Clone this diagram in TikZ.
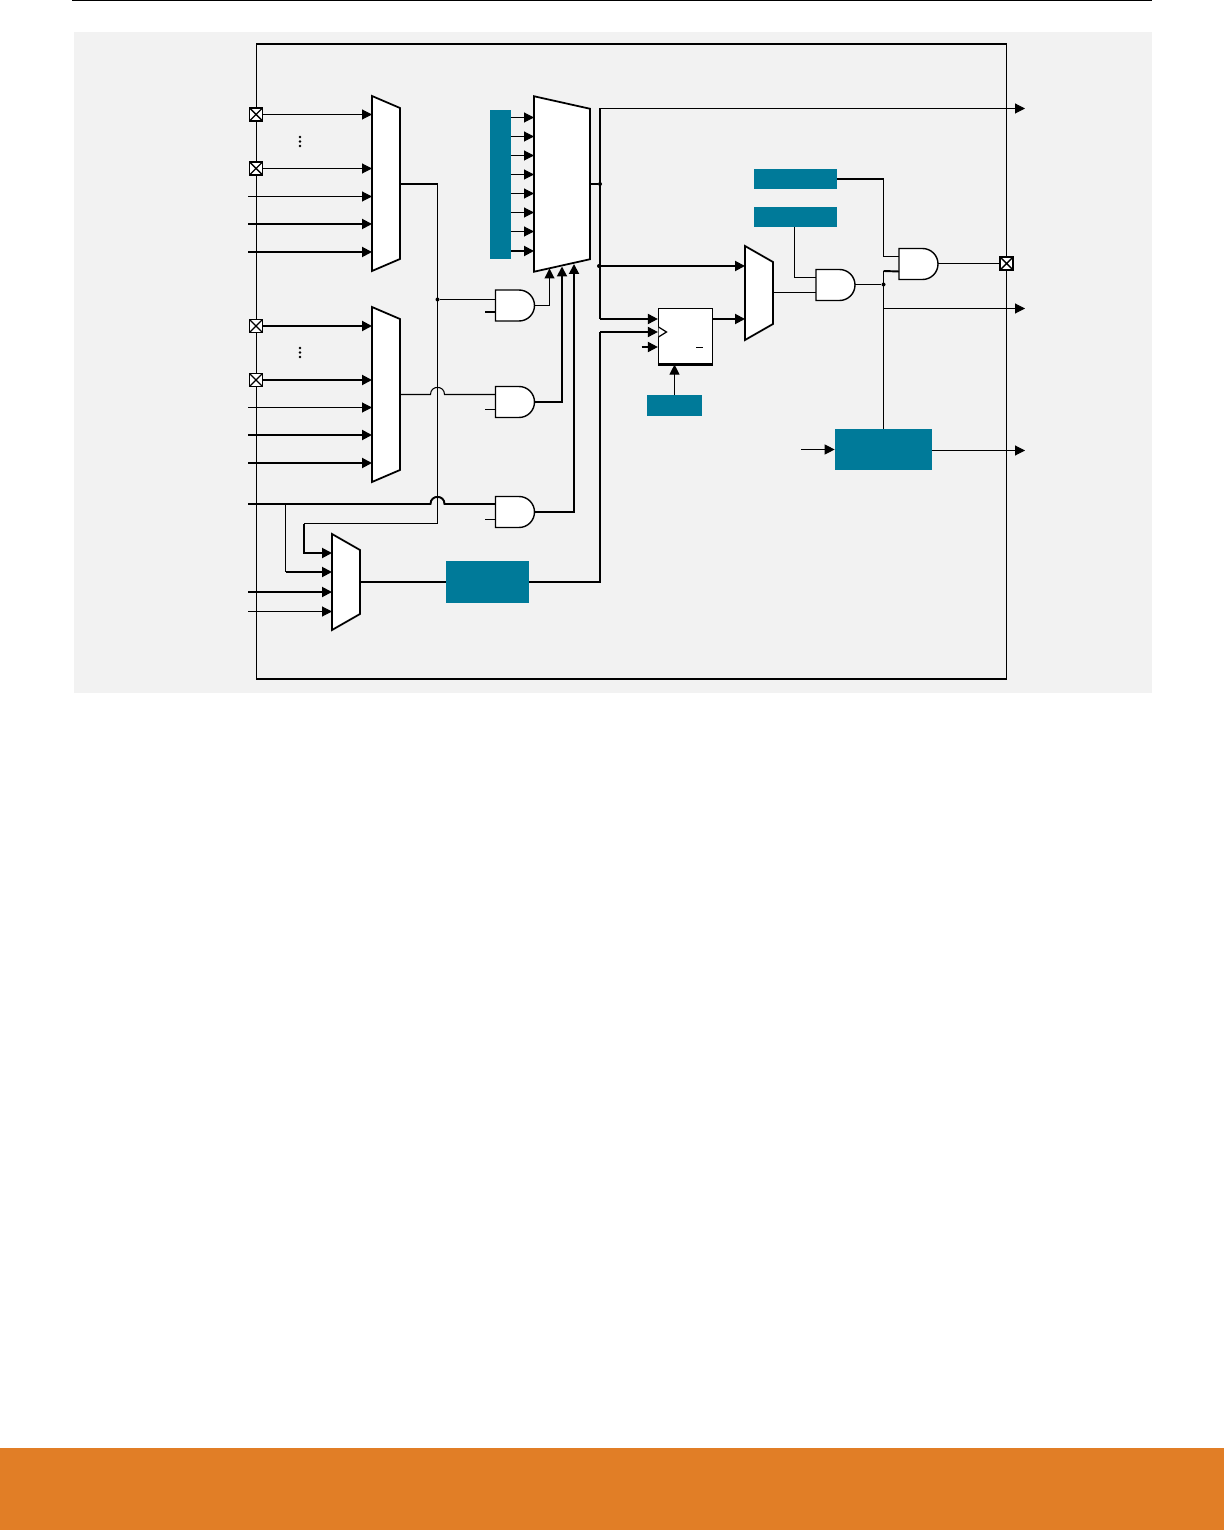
\documentclass[tikz,border=0pt]{standalone}
\usepackage{tikz}
\usetikzlibrary{arrows.meta}
\definecolor{pagegray}{HTML}{F2F2F2}
\definecolor{blockteal}{HTML}{007A99}
\definecolor{bandorange}{HTML}{E17E26}
\tikzset{
  wire/.style={line width=0.6pt},
  bus/.style={line width=1.1pt},
  tealbox/.style={rectangle, fill=blockteal, inner sep=0pt},
  pad/.style={rectangle, draw, fill=white, line width=1pt, minimum size=0.26cm, inner sep=0pt,
    path picture={\draw[line width=0.8pt] (path picture bounding box.north west) -- (path picture bounding box.south east)
      (path picture bounding box.north east) -- (path picture bounding box.south west);}},
  muxbox/.style={rectangle, inner sep=0pt, outer sep=0pt, minimum width=0.56cm},
  muxbody/.style={draw, fill=white, line width=1pt, line join=miter},
  gatebox/.style={rectangle, inner sep=0pt, outer sep=0pt, minimum width=0.78cm, minimum height=0.62cm},
  gatebody/.style={draw, fill=white, line width=0.8pt},
  jdot/.style={circle, fill, inner sep=0pt, minimum size=0.08cm},
  >={Stealth[length=0.2cm,width=0.2cm,inset=0pt]}
}
% outline of a mux on its box: name, cut of the right corners
\newcommand{\muxoutline}[2]{
  \draw[muxbody] (#1.north west) -- ([yshift=-#2]#1.north east) -- ([yshift=#2]#1.south east) -- (#1.south west) -- cycle;
}
% outline of an and gate on its box, with its two inputs
\newcommand{\gateoutline}[1]{
  \draw[gatebody] (#1.north west) -- ([xshift=-0.31cm]#1.north east) arc (90:-90:0.31cm) -- (#1.south west) -- cycle;
  \coordinate (#1a) at ([yshift=0.15cm]#1.west);
  \coordinate (#1b) at ([yshift=-0.15cm]#1.west);
}
\begin{document}
\begin{tikzpicture}[x=0.02cm, y=-0.02cm]
  \useasboundingbox (0,0) rectangle (1224,1530);
  % page furniture
  \fill[bandorange] (0,1448) rectangle (1224,1530);
  \fill[pagegray] (74,32) rectangle (1152,693);
  \draw[line width=0.7pt] (72,0.5) -- (1152,0.5);
  \draw[line width=0.6pt] (256.5,44) rectangle (1006.5,679);
  \draw[line width=0.8pt] (256.5,44) -- (1006.5,44);

  % multiplexers
  \node[muxbox, minimum height=3.5cm] (mux1) at (386,183.5) {};
  \node[muxbox, minimum height=3.5cm] (mux2) at (386,394.5) {};
  \node[muxbox, minimum height=1.92cm] (mux3) at (346,582) {};
  \node[muxbox, minimum width=1.12cm, minimum height=3.51cm] (mux4) at (562,184) {};
  \node[muxbox, minimum height=1.88cm] (mux5) at (759,293) {};
  \muxoutline{mux1}{0.24cm}
  \muxoutline{mux2}{0.24cm}
  \muxoutline{mux3}{0.32cm}
  \muxoutline{mux4}{0.25cm}
  \muxoutline{mux5}{0.32cm}

  % pads on the chip edge
  \node[pad] (pad1) at (256,114.5) {};
  \node[pad] (pad2) at (256,168.5) {};
  \node[pad] (pad3) at (256,326) {};
  \node[pad] (pad4) at (256,380) {};
  \node[pad] (pad5) at (1006.5,263.5) {};

  % coloured blocks
  \node[tealbox, minimum width=0.42cm, minimum height=2.98cm] (regbar) at (500.5,184.5) {};
  \node[tealbox, minimum width=1.66cm, minimum height=0.84cm] (filter) at (487.5,582) {};
  \node[tealbox, minimum width=1.66cm, minimum height=0.4cm] (rega) at (795.5,179) {};
  \node[tealbox, minimum width=1.66cm, minimum height=0.4cm] (regb) at (795.5,217) {};
  \node[tealbox, minimum width=1.1cm, minimum height=0.42cm] (regc) at (674.5,405.5) {};
  \node[tealbox, minimum width=1.94cm, minimum height=0.82cm] (ctrl) at (883.5,449.5) {};

  % flip-flop
  \node[rectangle, draw, fill=white, line width=0.7pt, inner sep=0pt, minimum width=1.08cm, minimum height=1.11cm] (ff) at (685.5,336.2) {};
  \draw[line width=1.3pt] (ff.south west) -- (ff.south east);
  \draw[line width=0.7pt, fill=white] (658.5,327) -- (666.5,332) -- (658.5,337);
  \draw[line width=0.6pt] (696,347.5) -- (703,347.5);

  % and gates
  \node[gatebox] (and1) at (515,305.5) {};
  \node[gatebox] (and2) at (515,402) {};
  \node[gatebox] (and3) at (515,512) {};
  \node[gatebox] (and4) at (835.5,285) {};
  \node[gatebox] (and5) at (918.5,264) {};
  \gateoutline{and1}
  \gateoutline{and2}
  \gateoutline{and3}
  \gateoutline{and4}
  \gateoutline{and5}

  % free ends and junctions
  \coordinate (in1) at (248,196.5);
  \coordinate (in2) at (248,224);
  \coordinate (in3) at (248,252);
  \coordinate (in4) at (248,407.5);
  \coordinate (in5) at (248,435);
  \coordinate (in6) at (248,463);
  \coordinate (in7) at (248,504);
  \coordinate (in8) at (248,592);
  \coordinate (in9) at (248,611.5);
  \coordinate (outa) at (1025,108.5);
  \coordinate (outb) at (1025,308.5);
  \coordinate (outc) at (1025,450.5);
  \coordinate (ctrlin) at (801,449.5);
  \coordinate (tap0) at (437.5,184);
  \coordinate (tap1) at (285.5,504);
  \coordinate (tap2) at (304,523.5);
  \coordinate (tap3) at (437.5,523.5);
  \coordinate (tap4) at (600,332);
  \coordinate (tap5) at (600,108.5);
  \coordinate (tap6) at (600,319);
  \coordinate (tap7) at (883.5,271);
  \coordinate (tap8) at (883.5,308.5);
  \coordinate (tap9) at (883.5,179);
  \coordinate (stub1) at (485,312);
  \coordinate (stub2) at (485,409.5);
  \coordinate (stub3) at (485,519.5);
  \coordinate (stub4) at (641.5,347);
  \node[jdot] (j1) at (437.5,299.5) {};
  \node[jdot] (j2) at (600,184) {};
  \node[jdot] (j3) at (599,266) {};
  \node[jdot] (j4) at (883.5,284.5) {};

  % inputs of the first two muxes
  \draw[wire,->] (pad1) -- (pad1 -| mux1.west);
  \draw[wire,->] (pad2) -- (pad2 -| mux1.west);
  \draw[wire,->] (in1) -- (in1 -| mux1.west);
  \draw[bus,->] (in2) -- (in2 -| mux1.west);
  \draw[bus,->] (in3) -- (in3 -| mux1.west);
  \draw[bus,->] (pad3) -- (pad3 -| mux2.west);
  \draw[bus,->] (pad4) -- (pad4 -| mux2.west);
  \draw[wire,->] (in4) -- (in4 -| mux2.west);
  \draw[bus,->] (in5) -- (in5 -| mux2.west);
  \draw[bus,->] (in6) -- (in6 -| mux2.west);
  \foreach \y in {141.5,352.5}{
    \foreach \d in {-4.5,0,4.5}
      \fill (300,\y+\d) circle (0.028cm);
  }

  % register bar into the big mux
  \foreach \y in {117.5,136.5,155.5,174.5,193.5,212.5,231.5}
    \draw[wire,->] (regbar.east |- 0,\y) -- (mux4.west |- 0,\y);
  \draw[bus,->] (regbar.east |- 0,251) -- (mux4.west |- 0,251);

  % selects
  \draw[bus] (tap0 -| mux1.east) -- (tap0);
  \draw[wire] (tap0) -- (tap3) -- (tap2);
  \draw[bus,->] (tap2) |- (mux3.west |- 0,553);
  \draw[wire] (j1) -- (j1 -| and1.west);
  \draw[wire] (mux2.east) -- (430.5,394.5) .. controls (430.5,385) and (444.5,385) .. (444.5,394.5) -- (and2a);
  \draw[bus] (in7) -- (430.5,504) .. controls (430.5,494.5) and (444.5,494.5) .. (444.5,504) -- (in7 -| and3.west);
  \draw[wire] (tap1) -- (285.5,572);
  \draw[bus,->] (285.5,572) -- (285.5,572 -| mux3.west);
  \draw[bus] (stub1) -- (stub1 -| and1.west);
  \draw[bus] (stub2) -- (stub2 -| and2.west);
  \draw[wire] (stub3) -- (stub3 -| and3.west);
  \draw[bus,->] (in8) -- (in8 -| mux3.west);
  \draw[wire,->] (in9) -- (in9 -| mux3.west);

  % gates into the big mux
  \draw[wire,->] (and1.east) -| (549.5,268.5);
  \draw[bus,->] (and2.east) -| (562,266.5);
  \draw[bus,->] (and3.east) -| (574,264);

  % filter path
  \draw[bus] (mux3.east) -- (filter);
  \draw[bus] (filter) -| (tap4);
  \draw[bus,->] (tap4) -- (tap4 -| ff.west);

  % big mux output
  \draw[bus] (mux4.east) -- (j2);
  \draw[wire,->] (tap5) -- (outa);
  \draw[bus] (tap5) -- (tap6);
  \draw[bus,->] (tap6) -- (tap6 -| ff.west);
  \draw[bus,->] (j3) -- (j3 -| mux5.west);
  \draw[bus,->] (stub4) -- (stub4 -| ff.west);
  \draw[wire,->] (regc) -- (regc |- ff.south);
  \draw[bus,->] (tap6 -| ff.east) -- (tap6 -| mux5.west);

  % right hand gates
  \draw[wire] (and4b -| mux5.east) -- (and4b);
  \draw[wire] (regb.south -| 794.5,0) |- (and4a);
  \draw[bus] (rega) -- (tap9);
  \draw[wire] (tap9) |- (and5a);
  \draw[wire] (j4 -| and4.east) -- (j4);
  \draw[bus] (tap7) -- (and5b);
  \draw[wire] (tap7) -- (tap7 |- ctrl.north);
  \draw[wire] (pad5 -| and5.east) -- (pad5);
  \draw[wire,->] (tap8) -- (outb);
  \draw[wire,->] (outc -| ctrl.east) -- (outc);
  \draw[wire,->] (ctrlin) -- (ctrlin -| ctrl.west);
\end{tikzpicture}
\end{document}
